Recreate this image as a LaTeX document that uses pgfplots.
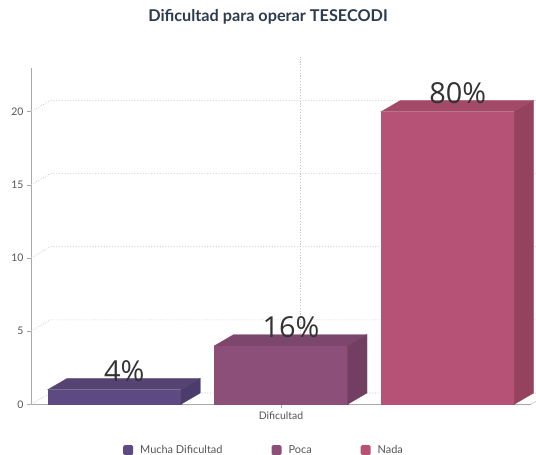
\documentclass[border=0pt]{standalone}
\usepackage{pgfplots}
\pgfplotsset{compat=1.18}
\usepackage{fontspec}
\setmainfont{Lato}
\newfontfamily\labelfont{Open Sans}
\definecolor{fA}{HTML}{5E4A82}\definecolor{tA}{HTML}{554473}\definecolor{sA}{HTML}{4C3C6B}
\definecolor{fB}{HTML}{8B4F79}\definecolor{tB}{HTML}{7D466C}\definecolor{sB}{HTML}{723E62}
\definecolor{fC}{HTML}{B65275}\definecolor{tC}{HTML}{A44A69}\definecolor{sC}{HTML}{94425E}
\definecolor{axisgray}{HTML}{A8A8A8}
\definecolor{gridgray}{HTML}{C8C8C8}
\definecolor{ticktext}{HTML}{555555}
\definecolor{titletext}{HTML}{2D3B4E}
\definecolor{labeltext}{HTML}{333333}
\begin{document}
\begin{tikzpicture}
\useasboundingbox (-31bp,-50.7bp) rectangle (505bp,404.3bp);
\begin{axis}[
  scale only axis, width=500bp, height=336.5bp,
  xmin=-0.5, xmax=2.5, ymin=0, ymax=23,
  clip=false,
  axis x line*=bottom, axis y line*=left,
  axis line style={draw=axisgray, line width=0.8bp, -},
  xtick={1}, xticklabels={Dificultad},
  ytick={0,5,10,15,20},
  tick align=outside, major tick length=4bp,
  tick style={draw=axisgray, line width=0.6bp},
  ticklabel style={font=\fontsize{10.5}{12}\selectfont, text=ticktext},
  /pgf/number format/assume math mode=true,
  title={Dificultad para operar TESECODI},
  title style={at={(0.474,1.119)}, anchor=base, font=\bfseries\fontsize{16.3}{19}\selectfont, text=titletext},
  legend columns=-1,
  legend style={draw=none, fill=none, at={(0.178,-0.136)}, anchor=west,
    font=\fontsize{11}{13}\selectfont, text=ticktext,
    /tikz/every odd column/.append style={column sep=5bp},
    /tikz/every even column/.append style={column sep=47bp}},
  legend image code/.code={\fill[#1, rounded corners=1.5bp] (0bp,-5bp) rectangle (10bp,5bp);},
]
% back-wall and left-wall grid lines
\addplot[gridgray, dash pattern=on 1.2bp off 1.6bp, line width=0.6bp, forget plot] coordinates {(-0.5,0) (-0.384,0.77) (2.616,0.77)};
\addplot[gridgray, dash pattern=on 1.2bp off 1.6bp, line width=0.6bp, forget plot] coordinates {(-0.5,5) (-0.384,5.77) (2.616,5.77)};
\addplot[gridgray, dash pattern=on 1.2bp off 1.6bp, line width=0.6bp, forget plot] coordinates {(-0.5,10) (-0.384,10.77) (2.616,10.77)};
\addplot[gridgray, dash pattern=on 1.2bp off 1.6bp, line width=0.6bp, forget plot] coordinates {(-0.5,15) (-0.384,15.77) (2.616,15.77)};
\addplot[gridgray, dash pattern=on 1.2bp off 1.6bp, line width=0.6bp, forget plot] coordinates {(-0.5,20) (-0.384,20.77) (2.616,20.77)};
\addplot[gridgray, dash pattern=on 1.2bp off 1.6bp, line width=0.6bp, forget plot] coordinates {(1.116,0.77) (1.116,23.77)};
% floor edge at right
\addplot[axisgray!60, line width=0.6bp, forget plot] coordinates {(2.5,0) (2.616,0.77)};
% bar 1: Mucha Dificultad = 1
\addplot[ybar, bar width=0.8, bar shift=0pt, fill=fA, draw=fA, line width=0.2bp, forget plot] coordinates {(0,1)};
\addplot[fill=tA, draw=tA, line width=0.2bp, forget plot] coordinates {(-0.4,1) (-0.284,1.77) (0.516,1.77) (0.4,1)} -- cycle;
\addplot[fill=sA, draw=sA, line width=0.2bp, forget plot] coordinates {(0.4,0) (0.516,0.77) (0.516,1.77) (0.4,1)} -- cycle;
% bar 2: Poca = 4
\addplot[ybar, bar width=0.8, bar shift=0pt, fill=fB, draw=fB, line width=0.2bp, forget plot] coordinates {(1,4)};
\addplot[fill=tB, draw=tB, line width=0.2bp, forget plot] coordinates {(0.6,4) (0.716,4.77) (1.516,4.77) (1.4,4)} -- cycle;
\addplot[fill=sB, draw=sB, line width=0.2bp, forget plot] coordinates {(1.4,0) (1.516,0.77) (1.516,4.77) (1.4,4)} -- cycle;
% bar 3: Nada = 20
\addplot[ybar, bar width=0.8, bar shift=0pt, fill=fC, draw=fC, line width=0.2bp, forget plot] coordinates {(2,20)};
\addplot[fill=tC, draw=tC, line width=0.2bp, forget plot] coordinates {(1.6,20) (1.716,20.77) (2.516,20.77) (2.4,20)} -- cycle;
\addplot[fill=sC, draw=sC, line width=0.2bp, forget plot] coordinates {(2.4,0) (2.516,0.77) (2.516,20.77) (2.4,20)} -- cycle;
% value labels
\addplot[draw=none, mark=none, forget plot, nodes near coords, point meta=explicit symbolic,
  nodes near coords style={anchor=base, inner sep=0pt, font=\labelfont\fontsize{29}{30}\selectfont, text=labeltext}]
  coordinates {(0.06,1.57)[4\%] (1.06,4.57)[16\%] (2.06,20.57)[80\%]};
% legend
\addlegendimage{fill=fA, draw=none}\addlegendentry{Mucha Dificultad}
\addlegendimage{fill=fB, draw=none}\addlegendentry{Poca}
\addlegendimage{fill=fC, draw=none}\addlegendentry{Nada}
\end{axis}
\end{tikzpicture}
\end{document}
